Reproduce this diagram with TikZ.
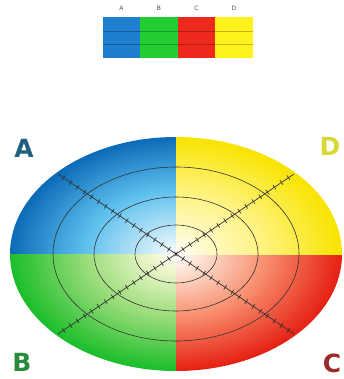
\documentclass[tikz,border=0pt]{standalone}
\usepackage{fontspec}
\newfontfamily\lblfont{DejaVu Sans}
\usetikzlibrary{calc}
\definecolor{lgA}{HTML}{1E7FD0}
\definecolor{lgB}{HTML}{22CC33}
\definecolor{lgC}{HTML}{EE2A1E}
\definecolor{lgD}{HTML}{FFF21A}
\definecolor{tA}{HTML}{1F5F80}
\definecolor{tB}{HTML}{2A8C3A}
\definecolor{tC}{HTML}{9C2A2A}
\definecolor{tD}{HTML}{D8D838}
\definecolor{a0}{HTML}{CDECF9}\definecolor{a1}{HTML}{5CC0EE}\definecolor{a2}{HTML}{0C6CB8}
\definecolor{b0}{HTML}{EEF6CC}\definecolor{b1}{HTML}{98DC78}\definecolor{b2}{HTML}{1CBE2C}
\definecolor{c0}{HTML}{FDE4D6}\definecolor{c1}{HTML}{F88C6C}\definecolor{c2}{HTML}{E62214}
\definecolor{d0}{HTML}{FFFAD0}\definecolor{d1}{HTML}{FFF27A}\definecolor{d2}{HTML}{F8E400}
\newcommand\quadgrad[3]{%
  \foreach \i in {0,...,24}{%
    \pgfmathsetmacro\f{1-0.44*\i/25}\pgfmathsetmacro\p{100*(1-\i/25)}%
    \fill[#3!\p!#2] (c) ellipse ({166*\f} and {117*\f});}%
  \foreach \i in {0,...,24}{%
    \pgfmathsetmacro\f{0.56-0.40*\i/25}\pgfmathsetmacro\p{100*(1-\i/25)}%
    \fill[#2!\p!#1] (c) ellipse ({166*\f} and {117*\f});}%
  \foreach \i in {0,...,9}{%
    \pgfmathsetmacro\f{0.16-0.16*\i/10}\pgfmathsetmacro\p{100*(1-\i/10)}%
    \fill[#1!\p!white] (c) ellipse ({166*\f} and {117*\f});}%
}
\tikzset{
  ring/.style={draw=black!80, line width=0.6pt},
  axisline/.style={draw=black!80, line width=0.7pt},
  tickmark/.style={draw=black!85, line width=0.6pt},
  biglbl/.style={font=\lblfont\bfseries\fontsize{25}{25}\selectfont, inner sep=0pt},
  smalllbl/.style={font=\lblfont\fontsize{6}{6}\selectfont, text=black!70, inner sep=0pt},
  legbox/.style={draw=none, minimum width=37.5pt, minimum height=41pt, inner sep=0pt, anchor=north west},
}
\begin{document}
\begin{tikzpicture}[x=1pt,y=-1pt]
\useasboundingbox (0,0) rectangle (344,379);
\coordinate (c) at (176,254);
% quadrants
\begin{scope}\clip (c) rectangle (0,0); \quadgrad{a0}{a1}{a2}\end{scope}
\begin{scope}\clip (c) rectangle (0,379); \quadgrad{b0}{b1}{b2}\end{scope}
\begin{scope}\clip (c) rectangle (344,379); \quadgrad{c0}{c1}{c2}\end{scope}
\begin{scope}\clip (c) rectangle (344,0); \quadgrad{d0}{d1}{d2}\end{scope}
% rings
\draw[ring] (c) ellipse (123 and 87);
\draw[ring] (c) ellipse (82 and 57);
\draw[ring] (c) ellipse (41 and 29);
% diagonals
\coordinate (p1) at ($(c)+(-118,-80)$);
\coordinate (p2) at ($(c)+(118,80)$);
\coordinate (p3) at ($(c)+(-118,80)$);
\coordinate (p4) at ($(c)+(118,-80)$);
\draw[axisline] (p1) -- (p2);
\draw[axisline] (p3) -- (p4);
\foreach \i in {-16,...,16}{
  \draw[tickmark] ($(c)+\i*(7.03,4.77)+(-1.5,2.2)$) -- ($(c)+\i*(7.03,4.77)-(-1.5,2.2)$);
  \draw[tickmark] ($(c)+\i*(7.03,-4.77)+(1.5,2.2)$) -- ($(c)+\i*(7.03,-4.77)-(1.5,2.2)$);
}
% corner labels
\node[biglbl, text=tA] (la) at (24,148) {A};
\node[biglbl, text=tB] (lb) at (22,362) {B};
\node[biglbl, text=tC] (lc) at (332,363) {C};
\node[biglbl, text=tD] (ld) at (330,146) {D};
% legend
\node[legbox, fill=lgA] (ka) at (102.5,17) {};
\node[legbox, fill=lgB] (kb) at (140,17) {};
\node[legbox, fill=lgC] (kc) at (177.5,17) {};
\node[legbox, fill=lgD] (kd) at (215,17) {};
\foreach \k/\col in {ka/lgA,kb/lgB,kc/lgC,kd/lgD}{
  \draw[\col!75!black, line width=0.5pt] ($(\k.north west)+(0,14)$) -- ($(\k.north east)+(0,14)$);
  \draw[\col!75!black, line width=0.5pt] ($(\k.north west)+(0,27)$) -- ($(\k.north east)+(0,27)$);
}
\node[smalllbl] (ta) at (ka.north |- 0,8) {A};
\node[smalllbl] (tb) at (kb.north |- 0,8) {B};
\node[smalllbl] (tc) at (kc.north |- 0,8) {C};
\node[smalllbl] (td) at (kd.north |- 0,8) {D};
\end{tikzpicture}
\end{document}
